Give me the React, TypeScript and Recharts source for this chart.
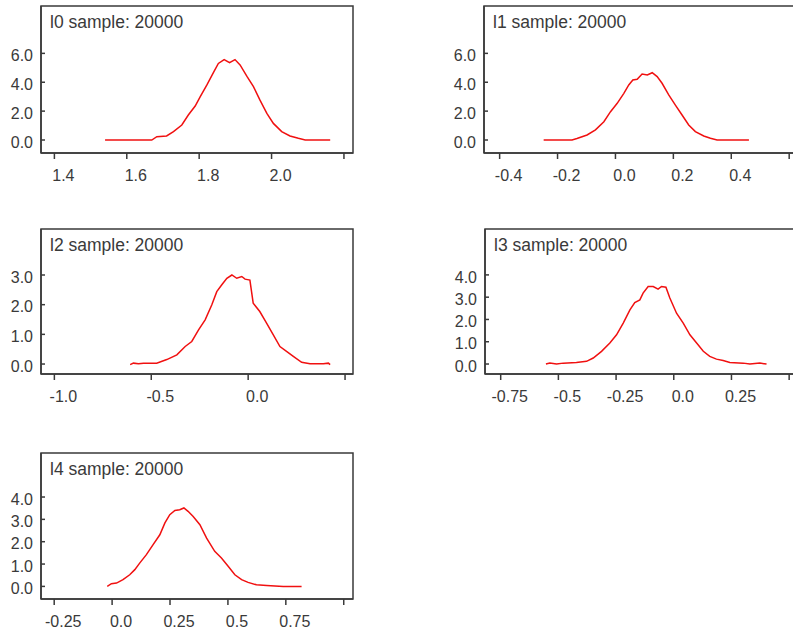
import React from "react";
import { LineChart, Line, XAxis, YAxis, ReferenceArea } from "recharts";

const FONT = '"Liberation Sans", Arial, sans-serif';
const INK = "#3a3a3a";
const RED = "#f01010";

// l0 density
const l0X = [1.540, 1.669, 1.683, 1.710, 1.729, 1.752, 1.770, 1.789, 1.803, 1.821, 1.840, 1.853, 1.869, 1.884, 1.899, 1.913, 1.932, 1.950, 1.968, 1.987, 2.005, 2.028, 2.051, 2.074, 2.093, 2.162];
const l0Y = [0, 0, 0.23, 0.28, 0.58, 1.04, 1.73, 2.35, 3.0, 3.8, 4.7, 5.3, 5.57, 5.35, 5.57, 5.2, 4.4, 3.7, 2.76, 1.84, 1.15, 0.58, 0.28, 0.12, 0, 0];
const l0XTicks = [1.4, 1.6, 1.8, 2.0, 2.2];
const l0XLabels = ["1.4", "1.6", "1.8", "2.0", ""];
const l0YTicks = [0, 2, 4, 6];

// l1 density
const l1X = [-0.248, -0.150, -0.133, -0.098, -0.069, -0.040, -0.017, 0.006, 0.029, 0.046, 0.060, 0.075, 0.092, 0.110, 0.127, 0.144, 0.161, 0.184, 0.207, 0.230, 0.253, 0.276, 0.305, 0.328, 0.351, 0.461];
const l1Y = [0, 0, 0.1, 0.35, 0.7, 1.27, 1.96, 2.54, 3.23, 3.81, 4.16, 4.2, 4.57, 4.5, 4.66, 4.39, 3.93, 3.12, 2.42, 1.73, 1.04, 0.58, 0.28, 0.12, 0, 0];
const l1XTicks = [-0.4, -0.2, 0.0, 0.2, 0.4, 0.6];
const l1XLabels = ["-0.4", "-0.2", "0.0", "0.2", "0.4", ""];
const l1YTicks = [0, 2, 4, 6];

// l2 density
const l2X = [-0.609, -0.592, -0.566, -0.540, -0.472, -0.420, -0.368, -0.325, -0.291, -0.256, -0.222, -0.188, -0.162, -0.136, -0.110, -0.084, -0.059, -0.033, -0.016, 0.009, 0.026, 0.060, 0.095, 0.129, 0.164, 0.198, 0.233, 0.276, 0.319, 0.388, 0.414, 0.423];
const l2Y = [-0.02, 0.03, 0.01, 0.03, 0.03, 0.15, 0.31, 0.59, 0.76, 1.15, 1.49, 1.99, 2.44, 2.67, 2.89, 3.0, 2.89, 2.95, 2.86, 2.83, 2.05, 1.77, 1.38, 0.99, 0.59, 0.43, 0.26, 0.06, 0.01, 0.01, 0.03, -0.02];
const l2XTicks = [-1.0, -0.5, 0.0, 0.5];
const l2XLabels = ["-1.0", "-0.5", "0.0", ""];
const l2YTicks = [0, 1, 2, 3];

// l3 density
const l3X = [-0.554, -0.537, -0.508, -0.479, -0.422, -0.378, -0.349, -0.313, -0.277, -0.248, -0.219, -0.190, -0.169, -0.147, -0.133, -0.111, -0.089, -0.068, -0.053, -0.034, -0.017, 0.012, 0.041, 0.070, 0.099, 0.128, 0.156, 0.185, 0.214, 0.243, 0.301, 0.330, 0.373, 0.402];
const l3Y = [0, 0.04, 0, 0.04, 0.07, 0.12, 0.27, 0.57, 0.94, 1.31, 1.84, 2.43, 2.76, 2.88, 3.18, 3.48, 3.48, 3.36, 3.48, 3.45, 2.96, 2.28, 1.84, 1.31, 0.94, 0.57, 0.34, 0.22, 0.16, 0.07, 0.04, 0, 0.04, 0];
const l3XTicks = [-0.75, -0.5, -0.25, 0.0, 0.25, 0.5];
const l3XLabels = ["-0.75", "-0.5", "-0.25", "0.0", "0.25", ""];
const l3YTicks = [0, 1, 2, 3, 4];

// l4 density
const l4X = [-0.021, -0.003, 0.019, 0.047, 0.076, 0.098, 0.119, 0.148, 0.177, 0.206, 0.228, 0.249, 0.271, 0.292, 0.310, 0.328, 0.350, 0.379, 0.408, 0.443, 0.472, 0.501, 0.530, 0.559, 0.587, 0.623, 0.667, 0.739, 0.818];
const l4Y = [0, 0.12, 0.15, 0.30, 0.52, 0.75, 1.04, 1.42, 1.87, 2.31, 2.84, 3.21, 3.40, 3.43, 3.51, 3.36, 3.13, 2.76, 2.16, 1.57, 1.27, 0.90, 0.52, 0.30, 0.18, 0.07, 0.04, 0, 0];
const l4XTicks = [-0.25, 0.0, 0.25, 0.5, 0.75, 1.0];
const l4XLabels = ["-0.25", "0.0", "0.25", "0.5", "0.75", ""];
const l4YTicks = [0, 1, 2, 3, 4];

const toRows = (xs: number[], ys: number[]) => xs.map((x, i) => ({ x, y: ys[i] }));

function XTick(props: any) {
  const { x, y, index, labels } = props;
  return (
    <text x={x + 9} y={y} dy="0.71em" textAnchor="middle" fill={INK} fontSize={16} fontFamily={FONT}>
      {labels[index]}
    </text>
  );
}

// y ticks point into the plot, labels sit left of the axis
function YTick(props: any) {
  const { y, payload, axisX } = props;
  return (
    <g>
      <line x1={axisX} x2={axisX + 4} y1={y} y2={y} stroke={INK} strokeWidth={1.5} />
      <text x={axisX - 8} y={y + 2} dy="0.355em" textAnchor="end" fill={INK} fontSize={16} fontFamily={FONT}>
        {Number(payload.value).toFixed(1)}
      </text>
    </g>
  );
}

interface PanelProps {
  title: string;
  xs: number[];
  ys: number[];
  xDomain: [number, number];
  yDomain: [number, number];
  xTicks: number[];
  xLabels: string[];
  yTicks: number[];
  chartLeft: number;
  boxLeft: number;
  boxRight: number;
  boxTop: number;
  boxHeight: number;
}

function Panel(p: PanelProps) {
  const width = 370;
  const chartTop = p.boxTop - 6;
  const height = 6 + p.boxHeight + 47;
  const right = p.chartLeft + width - p.boxRight;
  const axisX = p.boxLeft - p.chartLeft;
  const line = { stroke: INK, strokeWidth: 1.5 };

  return (
    <>
      <div style={{ position: "absolute", left: p.chartLeft, top: chartTop }}>
        <LineChart width={width} height={height} data={toRows(p.xs, p.ys)} margin={{ top: 6, right, bottom: 7, left: 0 }}>
          <XAxis
            xAxisId="b"
            type="number"
            dataKey="x"
            domain={p.xDomain}
            allowDataOverflow
            ticks={p.xTicks}
            interval={0}
            height={40}
            axisLine={line}
            tickLine={line}
            tickSize={6}
            tickMargin={11}
            tick={<XTick labels={p.xLabels} />}
          />
          <YAxis
            yAxisId="l"
            type="number"
            domain={p.yDomain}
            allowDataOverflow
            ticks={p.yTicks}
            interval={0}
            width={axisX}
            axisLine={line}
            tickLine={false}
            tick={<YTick axisX={axisX} />}
          />
          <ReferenceArea
            xAxisId="b"
            yAxisId="l"
            x1={p.xDomain[0]}
            x2={p.xDomain[1]}
            y1={p.yDomain[0]}
            y2={p.yDomain[1]}
            fill="none"
            fillOpacity={0}
            stroke={INK}
            strokeWidth={1.5}
            ifOverflow="visible"
          />
          <Line xAxisId="b" yAxisId="l" dataKey="y" type="linear" stroke={RED} strokeWidth={1.5} dot={false} isAnimationActive={false} />
        </LineChart>
      </div>
      <div style={{ position: "absolute", left: p.boxLeft + 9, top: p.boxTop + 8, fontSize: 17.5, lineHeight: "17px", color: INK, whiteSpace: "nowrap" }}>
        {p.title}
      </div>
    </>
  );
}

export default function App() {
  return (
    <div style={{ position: "absolute", left: 0, top: 0, width: 793, height: 635, overflow: "hidden", background: "#fff", fontFamily: FONT }}>
      <Panel title="l0 sample: 20000" xs={l0X} ys={l0Y} xDomain={[1.363, 2.225]} yDomain={[-0.9, 9.28]} xTicks={l0XTicks} xLabels={l0XLabels} yTicks={l0YTicks} chartLeft={0} boxLeft={41} boxRight={353} boxTop={6} boxHeight={147} />
      <Panel title="l1 sample: 20000" xs={l1X} ys={l1Y} xDomain={[-0.454, 0.627]} yDomain={[-0.9, 9.28]} xTicks={l1XTicks} xLabels={l1XLabels} yTicks={l1YTicks} chartLeft={430} boxLeft={484} boxRight={797} boxTop={6} boxHeight={147} />
      <Panel title="l2 sample: 20000" xs={l2X} ys={l2Y} xDomain={[-1.069, 0.541]} yDomain={[-0.336, 4.55]} xTicks={l2XTicks} xLabels={l2XLabels} yTicks={l2YTicks} chartLeft={0} boxLeft={41} boxRight={353} boxTop={229} boxHeight={145} />
      <Panel title="l3 sample: 20000" xs={l3X} ys={l3Y} xDomain={[-0.818, 0.534]} yDomain={[-0.448, 6.06]} xTicks={l3XTicks} xLabels={l3XLabels} yTicks={l3YTicks} chartLeft={430} boxLeft={485} boxRight={797} boxTop={229} boxHeight={145} />
      <Panel title="l4 sample: 20000" xs={l4X} ys={l4Y} xDomain={[-0.307, 1.04]} yDomain={[-0.564, 5.97]} xTicks={l4XTicks} xLabels={l4XLabels} yTicks={l4YTicks} chartLeft={0} boxLeft={41} boxRight={353} boxTop={453} boxHeight={146} />
    </div>
  );
}
